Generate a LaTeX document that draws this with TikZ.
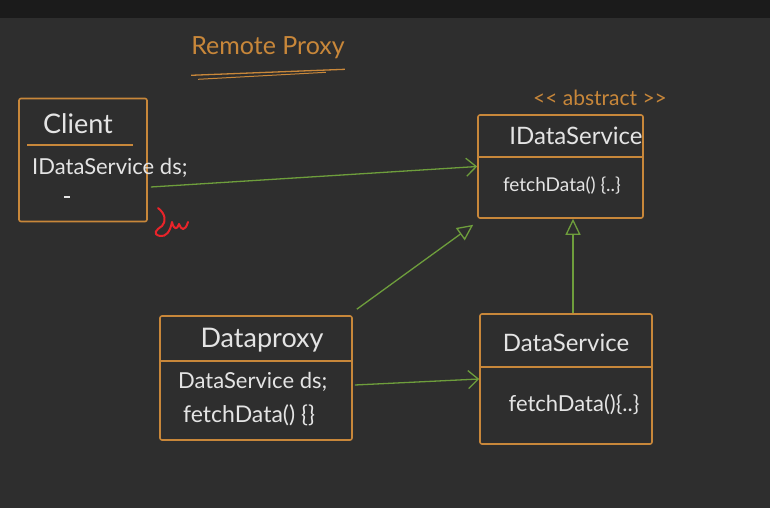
\documentclass[tikz,border=0pt]{standalone}
\usepackage{fontspec}
\setmainfont{Lato}
\usetikzlibrary{positioning, arrows.meta, calc}
\definecolor{board}{HTML}{2E2E2E}
\definecolor{topbar}{HTML}{1B1B1B}
\definecolor{pen}{HTML}{C8873A}
\definecolor{wire}{HTML}{6E9E3C}
\definecolor{chalk}{HTML}{E4E4E4}
\definecolor{redink}{HTML}{E8242A}
\newcommand{\fs}[1]{\fontsize{#1}{#1}\selectfont}
\tikzset{
  cls/.style   = {draw=pen, line width=1.6pt, rounded corners=2pt, inner sep=0pt},
  sep/.style   = {pen, line width=1.6pt},
  txt/.style   = {text=chalk, inner sep=1pt},
  ttl/.style   = {text=pen, inner sep=1pt},
  assoc/.style = {wire, line width=1.3pt, -{Straight Barb[length=10pt, width=18pt]}},
  impl/.style  = {wire, line width=1.3pt, -{Triangle[open, length=16pt, width=15pt]}},
}

\begin{document}
\begin{tikzpicture}[x=1pt, y=-1pt]
  \fill[board] (0,0) rectangle (770,508);
  \fill[topbar] (0,0) rectangle (770,18);
  \useasboundingbox (0,0) rectangle (770,508);

  % ---- title ----
  \node[ttl, font=\fs{25}] (title) at (268,48) {Remote Proxy};
  \draw[sep, line width=1.3pt] ([xshift=1pt, yshift=-15pt]title.south west) -- ([xshift=-1pt, yshift=-9pt]title.south east);
  \draw[sep, line width=1pt] ([xshift=8pt, yshift=-19pt]title.south west) -- ([xshift=-20pt, yshift=-12pt]title.south east);

  % ---- client ----
  \node[cls, minimum width=128pt, minimum height=123pt] (client) at (83,160) {};
  \node[txt, font=\fs{27}] (clientname) at (78,124) {Client};
  \draw[sep] ([xshift=9pt, yshift=-47pt]client.north west) -- ([xshift=-15pt, yshift=-47pt]client.north east);
  \node[txt, font=\fs{22}, anchor=west] (clientds) at (31,168) {IDataService ds;};
  \draw[chalk, line width=1.4pt] (64,197) -- (70,197);

  % ---- abstract service ----
  \node[cls, minimum width=165pt, minimum height=103pt] (idata) at (560.5,166.5) {};
  \node[ttl, font=\fs{21}] (abstr) at (600,98) {<{}< abstract >{}>};
  \node[txt, font=\fs{24}] (idataname) at (576,136) {IDataService};
  \draw[sep] ([yshift=-43pt]idata.north west) -- ([yshift=-43pt]idata.north east);
  \node[txt, font=\fs{19}] (idatafn) at (562,186) {fetchData() \{..\}};

  % ---- proxy ----
  \node[cls, minimum width=192pt, minimum height=124pt] (dproxy) at (256,378) {};
  \node[txt, font=\fs{27}] (dproxyname) at (262,340) {Dataproxy};
  \draw[sep] ([yshift=-46pt]dproxy.north west) -- ([yshift=-46pt]dproxy.north east);
  \node[txt, font=\fs{22}, anchor=west] (dproxyds) at (177,382) {DataService ds;};
  \node[txt, font=\fs{23}, anchor=west] (dproxyfn) at (182,415) {fetchData() \{\}};

  % ---- real service ----
  \node[cls, minimum width=172pt, minimum height=130pt] (dservice) at (566,379) {};
  \node[txt, font=\fs{24}] (dservicename) at (566,343) {DataService};
  \draw[sep] ([yshift=-54pt]dservice.north west) -- ([yshift=-54pt]dservice.north east);
  \node[txt, font=\fs{22}] (dservicefn) at (574,405) {fetchData()\{..\}};

  % ---- connectors ----
  \draw[assoc] ([xshift=3pt, yshift=-27pt]client.east) -- (idata.west);
  \draw[impl] ([xshift=4pt, yshift=6pt]dproxy.north east) -- ([xshift=-4pt, yshift=-6pt]idata.south west);
  \draw[impl] ([xshift=7pt]dservice.north) -- ([xshift=7pt]dservice.north |- idata.south);
  \draw[assoc] ([xshift=2pt, yshift=-7pt]dproxy.east) -- (dservice.west);

  % ---- red scribble ----
  \draw[redink, line width=2pt, line cap=round, line join=round]
    (158,208) .. controls (166,214) and (166,222) .. (162,226)
    .. controls (156,230) and (152,234) .. (160,236)
    .. controls (166,237) and (170,232) .. (172,222)
    .. controls (174,230) and (177,230) .. (179,224)
    .. controls (181,230) and (185,232) .. (188,222);
\end{tikzpicture}
\end{document}
